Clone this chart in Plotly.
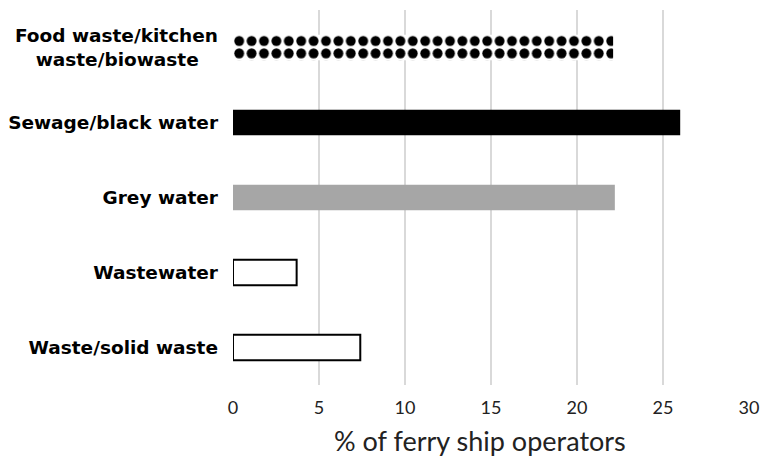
import plotly.graph_objects as go

categories = ["Waste/solid waste", "Wastewater", "Grey water", "Sewage/black water",
              "Food waste/kitchen<br>waste/biowaste\u00a0\u00a0\u00a0"]
values = [7.4, 3.7, 22.2, 26.0, 22.1]
x_ticks = [0, 5, 10, 15, 20, 25, 30]
x_title = "% of ferry ship operators"

fill_colors = ["white", "white", "#a6a6a6", "black"]
line_colors = ["black", "black", "#a6a6a6", "black"]
line_widths = [2, 2, 0, 0]

fig = go.Figure()
fig.add_trace(go.Bar(
    x=values[:4], y=categories[:4], orientation="h",
    marker=dict(color=fill_colors, line=dict(color=line_colors, width=line_widths)),
    width=0.34,
))
fig.add_trace(go.Bar(
    x=values[4:], y=categories[4:], orientation="h",
    marker=dict(color="white", line=dict(width=0),
                pattern=dict(shape=".", fgcolor="black", bgcolor="white",
                             size=12.4, solidity=0.5, fillmode="replace")),
    width=0.34,
))

fig.update_layout(
    width=764, height=456,
    margin=dict(l=233, r=15, t=10, b=71),
    plot_bgcolor="white", paper_bgcolor="white",
    showlegend=False, barmode="overlay",
    font=dict(family="Liberation Sans", color="black"),
)
fig.add_annotation(
    text=x_title, xref="paper", yref="paper", x=0.479, y=-0.147,
    xanchor="center", yanchor="middle", showarrow=False,
    font=dict(family="Lato", size=27, color="#222"),
)
fig.update_xaxes(
    range=[0, 30], tickvals=x_ticks, showgrid=True, gridcolor="#d9d9d9", gridwidth=2,
    zeroline=False, showline=False, ticks="", automargin=False,
    tickfont=dict(family="Lato", size=18, color="#222"),
    ticklabelstandoff=10,
)
fig.update_yaxes(
    categoryorder="array", categoryarray=categories,
    showgrid=False, zeroline=False, showline=False, ticks="", automargin=False,
    tickfont=dict(family="DejaVu Sans", size=18.5, color="black", weight="bold"),
    ticklabelstandoff=14,
)
# remove the page's default 8px body margin so the figure sits at the window origin
fig.write_html("out.html", config={"displayModeBar": False},
               post_script="document.body.style.margin='0px';")
